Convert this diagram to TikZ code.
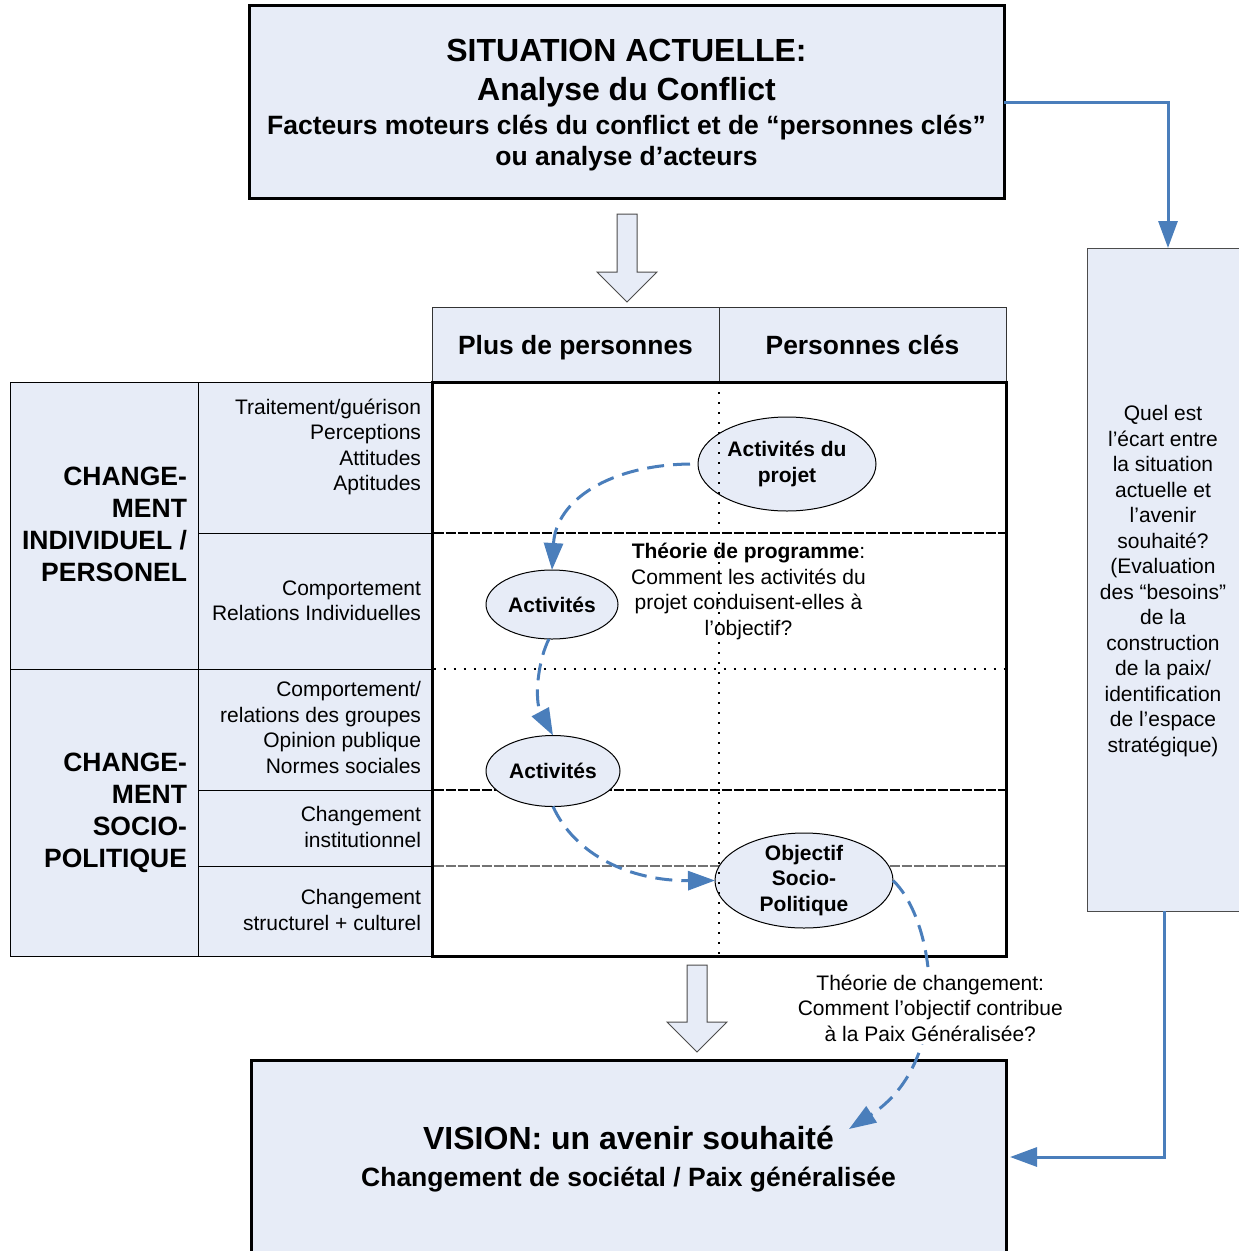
\documentclass[tikz,border=0pt]{standalone}
\usepackage{fontspec}
\setmainfont{Liberation Sans}
\usetikzlibrary{arrows.meta,shapes.geometric}
\definecolor{boxfill}{RGB}{231,236,247}
\definecolor{lineblue}{RGB}{74,126,187}
\begin{document}
\begin{tikzpicture}[x=1pt,y=-1pt,
  every node/.style={inner sep=0pt, outer sep=0pt},
  bigbox/.style={draw=black, line width=3pt, fill=boxfill},
  cell/.style={draw=black, line width=1pt, fill=boxfill},
  hdr/.style={draw=black!80, line width=1pt, fill=boxfill, font=\fontsize{26.4}{30}\selectfont\bfseries, text height=22.5pt, text depth=3.5pt},
  body/.style={font=\fontsize{21}{25.5}\selectfont, align=center},
  bodyr/.style={font=\fontsize{21}{25.5}\selectfont, align=right, anchor=east},
  lefttitle/.style={font=\fontsize{26.5}{32}\selectfont\bfseries, align=right, anchor=east},
  ell/.style={ellipse, draw=black, line width=1pt, fill=boxfill},
  elltext/.style={font=\fontsize{21}{25.5}\selectfont\bfseries, align=center},
  flow/.style={draw=lineblue, line width=3pt, -{Triangle[length=27pt,width=19pt]}},
  flowdash/.style={flow, dash pattern=on 17pt off 9pt},
  hollow/.style={draw=black!70, line width=1pt, fill=boxfill},
  gdash/.style={draw=black, line width=1.1pt, dash pattern=on 10pt off 2pt},
  gdot/.style={draw=black, line width=2.2pt, dash pattern=on 2.2pt off 7.8pt},
]
\fill[white] (0,0) rectangle (1239,1251);
\useasboundingbox (0,0) rectangle (1239,1251);

% top box
\node[bigbox, minimum width=755, minimum height=193] (top) at (626.5,102) {};
\node[font=\fontsize{32}{39}\selectfont\bfseries, anchor=base] (t1) at (626.5,61.5) {SITUATION ACTUELLE:};
\node[font=\fontsize{32}{39}\selectfont\bfseries, anchor=base] (t2) at (626.5,100.5) {Analyse du Conflict};
\node[font=\fontsize{26.5}{31}\selectfont\bfseries, anchor=base] (t3) at (626.5,134) {Facteurs moteurs clés du conflict et de “personnes clés”};
\node[font=\fontsize{26.5}{31}\selectfont\bfseries, anchor=base] (t4) at (626.5,165) {ou analyse d’acteurs};

% hollow arrows
\draw[hollow] (617,214) -- (637,214) -- (637,272) -- (657,272) -- (627,302) -- (597,272) -- (617,272) -- cycle;
\draw[hollow] (687,965) -- (707,965) -- (707,1022) -- (727,1022) -- (697,1052) -- (667,1022) -- (687,1022) -- cycle;

% header
\node[hdr, minimum width=287, minimum height=75] (hL) at (575.5,344.5) {Plus de personnes};
\node[hdr, minimum width=287, minimum height=75] (hR) at (862.5,344.5) {Personnes clés};

% left cells
\node[cell, minimum width=188, minimum height=287] (c1a) at (104,525.5) {};
\node[cell, minimum width=188, minimum height=287] (c1b) at (104,812.5) {};
\node[cell, minimum width=234, minimum height=151] (c2a) at (315,457.5) {};
\node[cell, minimum width=234, minimum height=136] (c2b) at (315,601) {};
\node[cell, minimum width=234, minimum height=121] (c2c) at (315,729.5) {};
\node[cell, minimum width=234, minimum height=76] (c2d) at (315,828) {};
\node[cell, minimum width=234, minimum height=90] (c2e) at (315,911) {};

\node[lefttitle] (l1) at (187,524.7) {CHANGE-\\MENT\\INDIVIDUEL /\\PERSONEL};
\node[lefttitle] (l2) at (187,812.8) {CHANGE-\\MENT\\SOCIO-\\POLITIQUE};

\node[bodyr] (r1) at (421,446.7) {Traitement/guérison\\Perceptions\\Attitudes\\Aptitudes};
\node[bodyr] (r2) at (421,601) {Comportement\\Relations Individuelles};
\node[bodyr] (r3) at (421,727.6) {Comportement/\\relations des groupes\\Opinion publique\\Normes sociales};
\node[bodyr] (r4) at (421,827) {Changement\\institutionnel};
\node[bodyr] (r5) at (421,910) {Changement\\structurel + culturel};

% grid
\node[draw=black, line width=3pt, fill=white, minimum width=574, minimum height=574] (grid) at (719,669) {};
\draw[gdash] (433.5,533) -- (1004.5,533);
\draw[gdot] (433.5,669) -- (1004.5,669);
\draw[gdash] (433.5,790) -- (1004.5,790);
\draw[gdash, draw=black!55, line width=1.5pt] (433.5,866) -- (1004.5,866);

% ellipses
\node[ell, minimum width=178, minimum height=94, label={[elltext]center:{Activités du\\projet}}] (proj) at (787,464) {};
\node[ell, minimum width=132, minimum height=69, label={[elltext]center:{Activités}}] (act1) at (552,604.5) {};
\node[ell, minimum width=134, minimum height=71, label={[elltext]center:{Activités}}] (act2) at (553,771) {};
\node[ell, minimum width=178, minimum height=95, label={[elltext]center:{Objectif\\Socio-\\Politique}}] (obj) at (804,880.5) {};

\draw[gdot] (grid.north) -- (grid.south);

\node[body] (tp) at (748.5,591.5) {\textbf{Théorie de programme}:\\Comment les activités du\\projet conduisent-elles à\\l’objectif?};

% right box
\node[draw=black!70, line width=1pt, fill=boxfill, minimum width=154, minimum height=663] (rbox) at (1164,579.5) {};
\node[body] (rtext) at (1163,581) {Quel est\\l’écart entre\\la situation\\actuelle et\\l’avenir\\souhaité?\\(Evaluation\\des “besoins”\\de la\\construction\\de la paix/\\identification\\de l’espace\\stratégique)};

% vision box
\node[bigbox, minimum width=755, minimum height=194] (vision) at (628.5,1157) {};
\node[font=\fontsize{32}{39}\selectfont\bfseries, anchor=base] (v1) at (628.5,1149.5) {VISION: un avenir souhaité};
\node[font=\fontsize{26.5}{31}\selectfont\bfseries, anchor=base] (v2) at (628.5,1186) {Changement de sociétal / Paix généralisée};

% connectors
\draw[flow] (top.east) -| ([xshift=4pt]rbox.north);
\draw[flow, shorten >=4pt] (rbox.south) |- (vision.east);

\coordinate (vtip) at (849,1129);
\draw[flowdash] ([xshift=-8pt]proj.west) .. controls (610,465) and (556,500) .. (act1.north);
\draw[flowdash] (act1.265) .. controls (538,660) and (534,700) .. (act2.north);
\draw[flowdash] (act2.south) .. controls (575,855) and (630,881) .. (obj.west);
\draw[flowdash] (obj.east) .. controls (935,920) and (955,1060) .. (vtip);

\node[body, fill=white, inner sep=3pt] (tc) at (930.3,1008) {Théorie de changement:\\Comment l’objectif contribue\\à la Paix Généralisée?};
\end{tikzpicture}
\end{document}
